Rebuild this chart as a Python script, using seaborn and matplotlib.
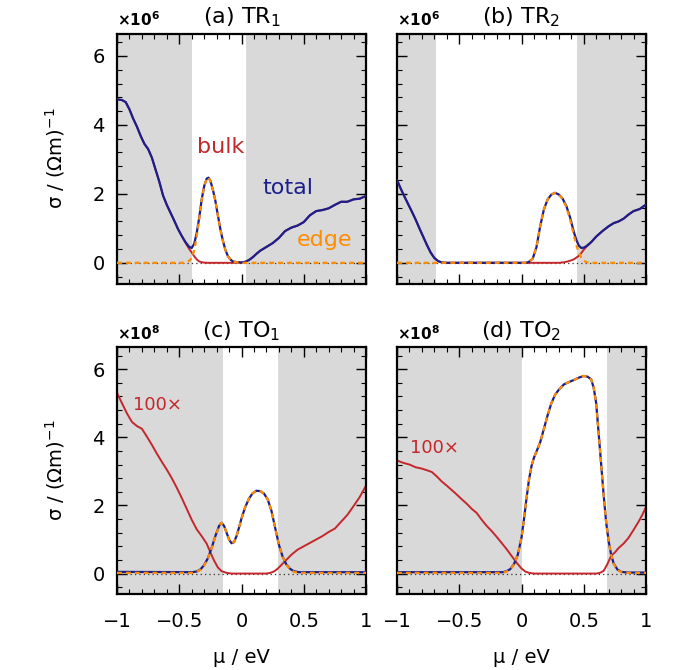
import matplotlib
matplotlib.use("Agg")
import matplotlib.pyplot as plt
from matplotlib.ticker import MultipleLocator
import seaborn as sns

# ---------------- data ----------------
# (a) TR1  (x10^6)
mu_a_total = [-1.00, -0.96, -0.93, -0.90, -0.87, -0.84, -0.81, -0.78, -0.75, -0.72, -0.69, -0.66, -0.63,
              -0.60, -0.57, -0.54, -0.51, -0.48, -0.45, -0.42, -0.40, -0.38, -0.36, -0.34, -0.32, -0.30,
              -0.28, -0.265, -0.25, -0.23, -0.21, -0.19, -0.17, -0.15, -0.13, -0.11, -0.09, -0.07, -0.04,
              0.00, 0.03, 0.06, 0.09, 0.12, 0.15, 0.20, 0.25, 0.30, 0.35, 0.40, 0.45, 0.50, 0.55, 0.60,
              0.65, 0.70, 0.75, 0.80, 0.85, 0.90, 0.95, 1.00]
sig_a_total = [4.74, 4.72, 4.66, 4.45, 4.18, 3.95, 3.68, 3.45, 3.30, 3.05, 2.70, 2.35, 1.95,
               1.68, 1.45, 1.22, 0.98, 0.78, 0.60, 0.46, 0.43, 0.55, 0.86, 1.30, 1.83, 2.22,
               2.44, 2.47, 2.38, 2.12, 1.80, 1.38, 0.98, 0.65, 0.38, 0.20, 0.10, 0.04, 0.02,
               0.01, 0.03, 0.08, 0.16, 0.26, 0.35, 0.46, 0.57, 0.72, 0.92, 1.02, 1.08, 1.18, 1.38, 1.50,
               1.53, 1.58, 1.68, 1.77, 1.77, 1.84, 1.86, 1.94]
mu_a_bulk = [-1.00, -0.96, -0.93, -0.90, -0.87, -0.84, -0.81, -0.78, -0.75, -0.72, -0.69, -0.66, -0.63,
             -0.60, -0.57, -0.54, -0.51, -0.48, -0.45, -0.42, -0.40, -0.38, -0.36, -0.34, -0.31, -0.28,
             -0.20, -0.10, -0.05, -0.02, 0.00, 0.03, 0.06, 0.09, 0.12, 0.15, 0.20, 0.25, 0.30, 0.35,
             0.40, 0.45, 0.50, 0.55, 0.60, 0.65, 0.70, 0.75, 0.80, 0.85, 0.90, 0.95, 1.00]
sig_a_bulk = [4.74, 4.72, 4.66, 4.45, 4.18, 3.95, 3.68, 3.45, 3.30, 3.05, 2.70, 2.35, 1.95,
              1.68, 1.45, 1.22, 0.98, 0.78, 0.58, 0.40, 0.30, 0.19, 0.10, 0.04, 0.01, 0.0,
              0.0, 0.0, 0.0, 0.004, 0.01, 0.03, 0.08, 0.16, 0.26, 0.35, 0.46, 0.57, 0.72, 0.92,
              1.02, 1.08, 1.18, 1.38, 1.50, 1.53, 1.58, 1.68, 1.77, 1.77, 1.84, 1.86, 1.94]
mu_a_edge = [-1.00, -0.46, -0.44, -0.42, -0.40, -0.38, -0.36, -0.34, -0.32, -0.30, -0.28, -0.265, -0.25,
             -0.23, -0.21, -0.19, -0.17, -0.15, -0.13, -0.11, -0.09, -0.07, -0.04, 0.00, 1.00]
sig_a_edge = [0.0, 0.0, 0.02, 0.06, 0.13, 0.36, 0.76, 1.26, 1.82, 2.22, 2.44, 2.47, 2.38,
              2.12, 1.80, 1.38, 0.98, 0.65, 0.38, 0.20, 0.10, 0.04, 0.015, 0.0, 0.0]

# (b) TR2  (x10^6)
mu_b_total = [-1.00, -0.97, -0.94, -0.91, -0.88, -0.85, -0.82, -0.79, -0.76, -0.73, -0.70, -0.67, -0.64,
              -0.60, 0.04, 0.06, 0.09, 0.12, 0.15, 0.18, 0.21, 0.24, 0.27, 0.30, 0.33, 0.36, 0.39,
              0.42, 0.44, 0.46, 0.48, 0.50, 0.52, 0.56, 0.60, 0.65, 0.70, 0.74, 0.78, 0.82, 0.86,
              0.90, 0.95, 1.00]
sig_b_total = [2.40, 2.15, 1.92, 1.70, 1.48, 1.25, 1.00, 0.76, 0.52, 0.30, 0.14, 0.05, 0.01,
               0.0, 0.0, 0.03, 0.12, 0.45, 1.06, 1.55, 1.84, 1.98, 2.03, 1.98, 1.86, 1.65, 1.32,
               0.90, 0.67, 0.50, 0.43, 0.44, 0.48, 0.60, 0.76, 0.92, 1.06, 1.15, 1.20, 1.28, 1.40,
               1.50, 1.56, 1.69]
mu_b_bulk = [-1.00, -0.97, -0.94, -0.91, -0.88, -0.85, -0.82, -0.79, -0.76, -0.73, -0.70, -0.67, -0.64,
             -0.60, 0.30, 0.33, 0.36, 0.39, 0.42, 0.44, 0.46, 0.48, 0.50, 0.52, 0.56, 0.60, 0.65,
             0.70, 0.74, 0.78, 0.82, 0.86, 0.90, 0.95, 1.00]
sig_b_bulk = [2.40, 2.15, 1.92, 1.70, 1.48, 1.25, 1.00, 0.76, 0.52, 0.30, 0.14, 0.05, 0.01,
              0.0, 0.0, 0.01, 0.03, 0.06, 0.10, 0.15, 0.20, 0.28, 0.38, 0.46, 0.60, 0.76, 0.92,
              1.06, 1.15, 1.20, 1.28, 1.40, 1.50, 1.56, 1.69]
mu_b_edge = [-1.00, 0.04, 0.06, 0.09, 0.12, 0.15, 0.18, 0.21, 0.24, 0.27, 0.30, 0.33, 0.36, 0.39,
             0.42, 0.44, 0.46, 0.48, 0.50, 0.52, 0.55, 1.00]
sig_b_edge = [0.0, 0.0, 0.03, 0.12, 0.45, 1.06, 1.55, 1.84, 1.98, 2.03, 1.98, 1.85, 1.62, 1.26,
              0.80, 0.52, 0.30, 0.15, 0.06, 0.02, 0.0, 0.0]

# (c) TO1  (x10^8), bulk shown 100x
mu_c_total = [-1.00, -0.40, -0.36, -0.33, -0.30, -0.27, -0.24, -0.21, -0.18, -0.16, -0.14, -0.12, -0.10,
              -0.08, -0.06, -0.04, -0.02, 0.00, 0.03, 0.06, 0.09, 0.12, 0.15, 0.18, 0.21, 0.24, 0.27,
              0.30, 0.33, 0.36, 0.39, 0.42, 0.46, 1.00]
sig_c_total = [0.05, 0.04, 0.06, 0.12, 0.25, 0.45, 0.75, 1.10, 1.40, 1.49, 1.40, 1.20, 1.00,
               0.89, 0.92, 1.10, 1.35, 1.62, 1.95, 2.20, 2.36, 2.43, 2.42, 2.35, 2.18, 1.85, 1.35,
               0.85, 0.50, 0.27, 0.14, 0.07, 0.04, 0.04]
mu_c_edge = mu_c_total
sig_c_edge = [0.02, 0.02, 0.05, 0.11, 0.24, 0.44, 0.74, 1.09, 1.40, 1.49, 1.40, 1.20, 1.00,
              0.89, 0.92, 1.10, 1.35, 1.62, 1.95, 2.20, 2.36, 2.43, 2.42, 2.35, 2.18, 1.85, 1.35,
              0.85, 0.50, 0.26, 0.13, 0.05, 0.02, 0.02]
mu_c_bulk = [-1.00, -0.96, -0.92, -0.88, -0.84, -0.80, -0.76, -0.72, -0.68, -0.64, -0.60, -0.56, -0.52,
             -0.48, -0.44, -0.40, -0.36, -0.32, -0.28, -0.25, -0.22, -0.19, -0.16, -0.12, -0.08, 0.20,
             0.23, 0.26, 0.29, 0.32, 0.36, 0.40, 0.45, 0.50, 0.55, 0.60, 0.65, 0.70, 0.75, 0.80,
             0.85, 0.90, 0.95, 1.00]
sig_c_bulk100 = [5.30, 5.00, 4.70, 4.45, 4.33, 4.25, 4.02, 3.78, 3.52, 3.28, 3.05, 2.80, 2.52,
                 2.22, 1.90, 1.58, 1.30, 1.10, 0.88, 0.62, 0.38, 0.18, 0.07, 0.02, 0.0, 0.0,
                 0.02, 0.06, 0.14, 0.25, 0.40, 0.55, 0.70, 0.80, 0.90, 1.00, 1.10, 1.22, 1.32, 1.52,
                 1.72, 1.98, 2.25, 2.58]

# (d) TO2  (x10^8), bulk shown 100x
mu_d_total = [-1.00, -0.15, -0.12, -0.09, -0.06, -0.03, 0.00, 0.02, 0.04, 0.06, 0.08, 0.10, 0.12,
              0.15, 0.18, 0.21, 0.24, 0.27, 0.30, 0.34, 0.38, 0.42, 0.46, 0.50, 0.53, 0.56, 0.58,
              0.60, 0.62, 0.64, 0.66, 0.68, 0.70, 0.72, 0.74, 0.77, 0.80, 0.85, 1.00]
sig_d_total = [0.04, 0.04, 0.07, 0.13, 0.28, 0.55, 1.05, 1.60, 2.20, 2.75, 3.15, 3.40, 3.58,
               3.85, 4.25, 4.65, 5.00, 5.25, 5.40, 5.55, 5.62, 5.68, 5.75, 5.80, 5.78, 5.70, 5.45,
               5.00, 4.10, 3.20, 2.30, 1.50, 0.95, 0.55, 0.30, 0.12, 0.05, 0.03, 0.03]
mu_d_edge = mu_d_total
sig_d_edge = [0.02, 0.02, 0.06, 0.12, 0.27, 0.55, 1.05, 1.60, 2.20, 2.75, 3.15, 3.40, 3.58,
              3.85, 4.25, 4.65, 5.00, 5.25, 5.40, 5.55, 5.62, 5.68, 5.75, 5.80, 5.78, 5.70, 5.45,
              5.00, 4.10, 3.20, 2.30, 1.50, 0.95, 0.55, 0.29, 0.11, 0.04, 0.02, 0.02]
mu_d_bulk = [-1.00, -0.95, -0.90, -0.85, -0.80, -0.75, -0.72, -0.68, -0.64, -0.60, -0.56, -0.52, -0.48,
             -0.44, -0.40, -0.36, -0.32, -0.28, -0.24, -0.20, -0.16, -0.12, -0.08, -0.04, 0.00, 0.03,
             0.06, 0.10, 0.60, 0.63, 0.66, 0.69, 0.72, 0.75, 0.78, 0.82, 0.86, 0.90, 0.94, 0.97, 1.00]
sig_d_bulk100 = [3.32, 3.25, 3.20, 3.12, 3.08, 3.02, 2.98, 2.85, 2.70, 2.58, 2.45, 2.32, 2.18,
                 2.05, 1.90, 1.78, 1.58, 1.40, 1.25, 1.08, 0.90, 0.72, 0.52, 0.32, 0.15, 0.06,
                 0.02, 0.0, 0.0, 0.02, 0.08, 0.28, 0.52, 0.62, 0.75, 0.88, 1.05, 1.28, 1.52, 1.72, 1.95]

# band-gap windows (white), shaded outside
gap_a = (-0.40, 0.04)
gap_b = (-0.687, 0.446)
gap_c = (-0.151, 0.29)
gap_d = (0.0, 0.685)

titles = ["(a) TR$_1$", "(b) TR$_2$", "(c) TO$_1$", "(d) TO$_2$"]
scales = [r"$\mathbf{\times 10^{6}}$", r"$\mathbf{\times 10^{6}}$",
          r"$\mathbf{\times 10^{8}}$", r"$\mathbf{\times 10^{8}}$"]
xtick_vals = [-1, -0.5, 0, 0.5, 1]
xtick_labels = ["\u22121", "\u22120.5", "0", "0.5", "1"]
ytick_vals = [0, 2, 4, 6]
ytick_labels = ["0", "2", "4", "6"]

# ---------------- style ----------------
sns.set_style("ticks")
plt.rcParams["font.family"] = ["DejaVu Sans"]
plt.rcParams["mathtext.fontset"] = "dejavusans"
plt.rcParams["text.color"] = "black"
plt.rcParams["axes.labelcolor"] = "black"
plt.rcParams["xtick.color"] = "black"
plt.rcParams["ytick.color"] = "black"
plt.rcParams["xtick.labelcolor"] = "black"
plt.rcParams["ytick.labelcolor"] = "black"

NAVY = "#1b1f8c"
RED = "#c4272b"
ORANGE = "#ff8c00"
GRAY = "#d9d9d9"

W, H = 686, 670
fig = plt.figure(figsize=(W / 100, H / 100), dpi=100)


def frac(x0, y0, x1, y1):
    return [x0 / W, 1 - y1 / H, (x1 - x0) / W, (y1 - y0) / H]


ax_a = fig.add_axes(frac(117, 33.5, 366, 283.5))
ax_b = fig.add_axes(frac(397, 33.5, 646, 283.5))
ax_c = fig.add_axes(frac(117, 347, 366, 594))
ax_d = fig.add_axes(frac(397, 347, 646, 594))

panels = [
    (ax_a, gap_a, (mu_a_total, sig_a_total), (mu_a_bulk, sig_a_bulk), (mu_a_edge, sig_a_edge)),
    (ax_b, gap_b, (mu_b_total, sig_b_total), (mu_b_bulk, sig_b_bulk), (mu_b_edge, sig_b_edge)),
    (ax_c, gap_c, (mu_c_total, sig_c_total), (mu_c_bulk, sig_c_bulk100), (mu_c_edge, sig_c_edge)),
    (ax_d, gap_d, (mu_d_total, sig_d_total), (mu_d_bulk, sig_d_bulk100), (mu_d_edge, sig_d_edge)),
]

for i, (ax, gap, tot, blk, edg) in enumerate(panels):
    ax.axvspan(-1, gap[0], color=GRAY, lw=0, zorder=0)
    ax.axvspan(gap[1], 1, color=GRAY, lw=0, zorder=0)
    ax.axhline(0, color="#333333", lw=0.9, linestyle=(0, (1, 2.5)), zorder=1)
    sns.lineplot(x=blk[0], y=blk[1], ax=ax, color=RED, linewidth=1.4, zorder=2)
    sns.lineplot(x=tot[0], y=tot[1], ax=ax, color=NAVY, linewidth=1.6, zorder=3)
    sns.lineplot(x=edg[0], y=edg[1], ax=ax, color=ORANGE, linewidth=1.6,
                 linestyle=(0, (2.2, 1.8)), zorder=4)

    ax.set_xlim(-1, 1)
    ax.set_ylim(-0.6, 6.65)
    ax.set_xticks(xtick_vals)
    ax.set_xticklabels(xtick_labels)
    ax.set_yticks(ytick_vals)
    ax.set_yticklabels(ytick_labels)
    ax.xaxis.set_minor_locator(MultipleLocator(0.1))
    ax.yaxis.set_minor_locator(MultipleLocator(0.4))
    ax.tick_params(which="both", direction="in", top=True, right=True, color="black",
                   labelcolor="black")
    ax.tick_params(which="major", length=7, width=1.0, labelsize=14)
    ax.tick_params(which="minor", length=3.5, width=0.8)
    ax.tick_params(axis="x", which="major", pad=13)
    ax.tick_params(axis="y", which="major", pad=9)
    for sp in ax.spines.values():
        sp.set_linewidth(1.6)
        sp.set_color("black")
        sp.set_visible(True)
    ax.set_xlabel("")
    ax.set_ylabel("")
    ax.text(0.5, 1.065, titles[i], transform=ax.transAxes, ha="center", va="center",
            fontsize=16, color="black")
    ax.text(0.0, 1.055, scales[i], transform=ax.transAxes, ha="left", va="center",
            fontsize=11, color="black")

    if i < 2:
        ax.tick_params(labelbottom=False)
    else:
        ax.set_xlabel("\u03bc / eV", fontsize=14, color="black")
        ax.xaxis.set_label_coords(0.5, -0.22)
    if i % 2 == 1:
        ax.tick_params(labelleft=False)
    else:
        ax.set_ylabel("\u03c3 / (\u03a9m)$^{-1}$", fontsize=14, color="black")
        ax.yaxis.set_label_coords(-0.2, 0.5)

# annotations
ax_a.text(-0.17, 3.36, "bulk", color=RED, fontsize=16, ha="center", va="center")
ax_a.text(0.37, 2.17, "total", color=NAVY, fontsize=16, ha="center", va="center")
ax_a.text(0.67, 0.67, "edge", color=ORANGE, fontsize=16, ha="center", va="center")
ax_c.text(-0.675, 4.95, "100\u00d7", color=RED, fontsize=13, ha="center", va="center")
ax_d.text(-0.70, 3.68, "100\u00d7", color=RED, fontsize=13, ha="center", va="center")

fig.savefig("out.png", dpi=100)
